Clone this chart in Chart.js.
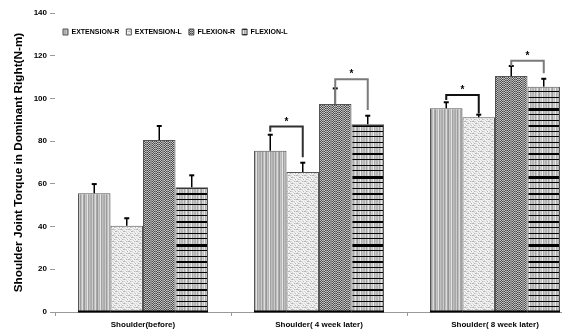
<!DOCTYPE html>
<html>
<head>
<meta charset="utf-8">
<script src="https://cdn.jsdelivr.net/npm/chart.js@4.4.1/dist/chart.umd.min.js"></script>
<style>
  html, body { margin: 0; padding: 0; overflow: hidden; background: #fff; }
  #wrap { width: 583px; height: 334px; position: relative; }
</style>
</head>
<body>
<div id="wrap"><canvas id="c"></canvas></div>
<script>
// ---- data ----
const categories = ['Shoulder(before)', 'Shoulder( 4 week later)', 'Shoulder( 8 week later)'];
const seriesNames = ['EXTENSION-R', 'EXTENSION-L', 'FLEXION-R', 'FLEXION-L'];
const extensionR = [55.6, 75.5, 95.4];
const extensionL = [40.4, 65.5, 91.2];
const flexionR = [80.5, 97.4, 110.5];
const flexionL = [58.4, 87.9, 105.5];
const extensionRErr = [4.3, 7.5, 2.8];
const extensionLErr = [3.5, 4.4, 1.2];
const flexionRErr = [6.6, 7.3, 4.7];
const flexionLErr = [5.6, 4.0, 3.7];
const yTicks = [0, 20, 40, 60, 80, 100, 120, 140];

// significance brackets: category index, the two compared series, bracket heights
const bracketGroup = [1, 1, 2, 2];
const bracketFrom = [0, 2, 0, 2];
const bracketTo = [1, 3, 1, 3];
const bracketTop = [86.8, 109.0, 101.6, 117.7];
const bracketLeftEnd = [84.4, 97.4, 99.3, 115.2];
const bracketRightEnd = [72.4, 94.6, 93.0, 111.8];
const bracketMark = ['*', '*', '*', '*'];

// ---- fill patterns ----
const mainCtx = document.getElementById('c').getContext('2d');
function makePattern(w, h, paint) {
  const c = document.createElement('canvas');
  c.width = w; c.height = h;
  paint(c.getContext('2d'), w, h);
  return mainCtx.createPattern(c, 'repeat');
}
function gray(v) { const s = v.toString(16).padStart(2, '0'); return '#' + s + s + s; }

const stripeLevels = [0xaa, 0xcc, 0x9c, 0xbe, 0xdc, 0xa8, 0x96, 0xc6, 0xb6, 0xe4, 0xa2, 0xbe, 0xb0];
const patStripes = makePattern(stripeLevels.length, 1, g => {
  stripeLevels.forEach((v, i) => { g.fillStyle = gray(v); g.fillRect(i, 0, 1, 1); });
});

const speckRows = [
  'wlwwwlww',
  'ggllwwgl',
  'wwlwlwww',
  'lwwggllw',
  'wlwwwwlw',
  'wwgllwwg'
];
const speckColors = { w: '#f2f2f2', l: '#d6d6d6', g: '#b6b6b6' };
const patSpeck = makePattern(8, speckRows.length, g => {
  speckRows.forEach((row, y) => {
    [...row].forEach((ch, x) => { g.fillStyle = speckColors[ch]; g.fillRect(x, y, 1, 1); });
  });
});

const checkCols = 'ccmcccmmcccm';
const patCheck = makePattern(checkCols.length, 2, g => {
  [...checkCols].forEach((ch, x) => {
    for (let y = 0; y < 2; y++) {
      g.fillStyle = ch === 'm' ? '#8e8e8e' : ((x + y) % 2 ? '#484848' : '#c8c8c8');
      g.fillRect(x, y, 1, 1);
    }
  });
});

// horizontal rules inside the FLEXION-L fill: [row, thickness]
const hLines = [[0, 1], [6, 1], [11, 1], [17, 2], [23, 1], [29, 1], [34, 1], [40, 3], [46, 1], [52, 1], [57, 2], [63, 1]];
const patLined = makePattern(stripeLevels.length, 68, (g, w, h) => {
  stripeLevels.forEach((v, i) => { g.fillStyle = gray(Math.min(255, v + 8)); g.fillRect(i, 0, 1, h); });
  g.fillStyle = '#000';
  hLines.forEach(([y, t]) => g.fillRect(0, y, w, t));
});

// ---- plugins ----
const baseLines = {
  id: 'baseLines',
  afterDatasetsDraw(chart) {
    const ctx = chart.ctx;
    ctx.save();
    ctx.strokeStyle = '#000';
    ctx.lineWidth = 2;
    chart.data.datasets.forEach((ds, i) => {
      chart.getDatasetMeta(i).data.forEach(bar => {
        ctx.beginPath();
        ctx.moveTo(bar.x - bar.width / 2, bar.base);
        ctx.lineTo(bar.x + bar.width / 2, bar.base);
        ctx.stroke();
      });
    });
    ctx.restore();
  }
};

const errorBars = {
  id: 'errorBars',
  afterDatasetsDraw(chart) {
    const ctx = chart.ctx, ys = chart.scales.y;
    ctx.save();
    ctx.strokeStyle = '#000';
    chart.data.datasets.forEach((ds, i) => {
      chart.getDatasetMeta(i).data.forEach((bar, j) => {
        const top = ys.getPixelForValue(ds.data[j] + ds.errors[j]);
        ctx.lineWidth = 1.5;
        ctx.beginPath(); ctx.moveTo(bar.x, bar.y); ctx.lineTo(bar.x, top); ctx.stroke();
        ctx.lineWidth = 2;
        ctx.beginPath(); ctx.moveTo(bar.x - 2.5, top); ctx.lineTo(bar.x + 2.5, top); ctx.stroke();
      });
    });
    ctx.restore();
  }
};

const brackets = {
  id: 'brackets',
  afterDatasetsDraw(chart) {
    const ctx = chart.ctx, ys = chart.scales.y;
    const colors = ['#303030', '#7a7a7a', '#111111', '#7a7a7a'];
    ctx.save();
    bracketGroup.forEach((grp, k) => {
      const x1 = chart.getDatasetMeta(bracketFrom[k]).data[grp].x;
      const x2 = chart.getDatasetMeta(bracketTo[k]).data[grp].x;
      const yt = ys.getPixelForValue(bracketTop[k]);
      const yl = ys.getPixelForValue(bracketLeftEnd[k]);
      const yr = ys.getPixelForValue(bracketRightEnd[k]);
      ctx.strokeStyle = colors[k];
      ctx.lineWidth = 2;
      ctx.beginPath();
      ctx.moveTo(x1, yl); ctx.lineTo(x1, yt); ctx.lineTo(x2, yt); ctx.lineTo(x2, yr);
      ctx.stroke();
      ctx.fillStyle = '#000';
      ctx.font = 'bold 10px "Liberation Sans", Arial, sans-serif';
      ctx.textAlign = 'center';
      ctx.textBaseline = 'alphabetic';
      ctx.fillText(bracketMark[k], (x1 + x2) / 2, yt - 2);
    });
    ctx.restore();
  }
};

// the legend takes no layout space; it sits inside the plot, under the top tick
const legendPlace = {
  id: 'legendPlace',
  afterLayout(chart) {
    const lg = chart.legend;
    lg.left = chart.chartArea.left + 1;
    lg.top = chart.chartArea.top + 8.5;
    lg.bottom = lg.top + 20;
  }
};

// ---- chart ----
Chart.defaults.font.family = '"Liberation Sans", Arial, sans-serif';
Chart.defaults.color = '#000';

const seriesValues = [extensionR, extensionL, flexionR, flexionL];
const seriesErrors = [extensionRErr, extensionLErr, flexionRErr, flexionLErr];
const seriesFills = [patStripes, patSpeck, patCheck, patLined];

new Chart(document.getElementById('c'), {
  type: 'bar',
  data: {
    labels: categories,
    datasets: seriesNames.map((name, i) => ({
      label: name,
      data: seriesValues[i],
      errors: seriesErrors[i],
      backgroundColor: seriesFills[i],
      borderColor: '#555',
      borderWidth: 1,
      categoryPercentage: 0.7386,
      barPercentage: 1
    }))
  },
  options: {
    responsive: true,
    maintainAspectRatio: false,
    devicePixelRatio: 1,
    animation: false,
    layout: { padding: { top: 12, right: 0, bottom: 0, left: 0 } },
    plugins: {
      legend: {
        position: 'top',
        align: 'start',
        maxHeight: 1,
        labels: {
          boxWidth: 5,
          boxHeight: 6,
          padding: 7,
          color: '#000',
          font: { size: 7, weight: 'bold' }
        }
      },
      tooltip: { enabled: false }
    },
    scales: {
      x: {
        ticks: { color: '#000', font: { size: 8, weight: 'bold' }, padding: 4, maxRotation: 0, autoSkip: false },
        grid: { drawOnChartArea: false, tickLength: 4, color: '#999' },
        border: { display: true, color: '#999', width: 1 },
        afterFit(scale) { scale.height = 22; }
      },
      y: {
        min: yTicks[0],
        max: yTicks[yTicks.length - 1],
        ticks: { stepSize: yTicks[1] - yTicks[0], color: '#000', font: { size: 8, weight: 'bold' }, padding: 3 },
        grid: { drawOnChartArea: false, tickLength: 5, color: '#9a9a9a' },
        border: { display: false },
        title: {
          display: true,
          text: 'Shoulder Joint Torque in Dominant Right(N-m)',
          color: '#000',
          font: { size: 11.75, weight: 'bold' },
          padding: { top: 12, bottom: 0 }
        },
        afterFit(scale) { scale.width = 55; }
      }
    }
  },
  plugins: [legendPlace, baseLines, errorBars, brackets]
});
</script>
</body>
</html>
